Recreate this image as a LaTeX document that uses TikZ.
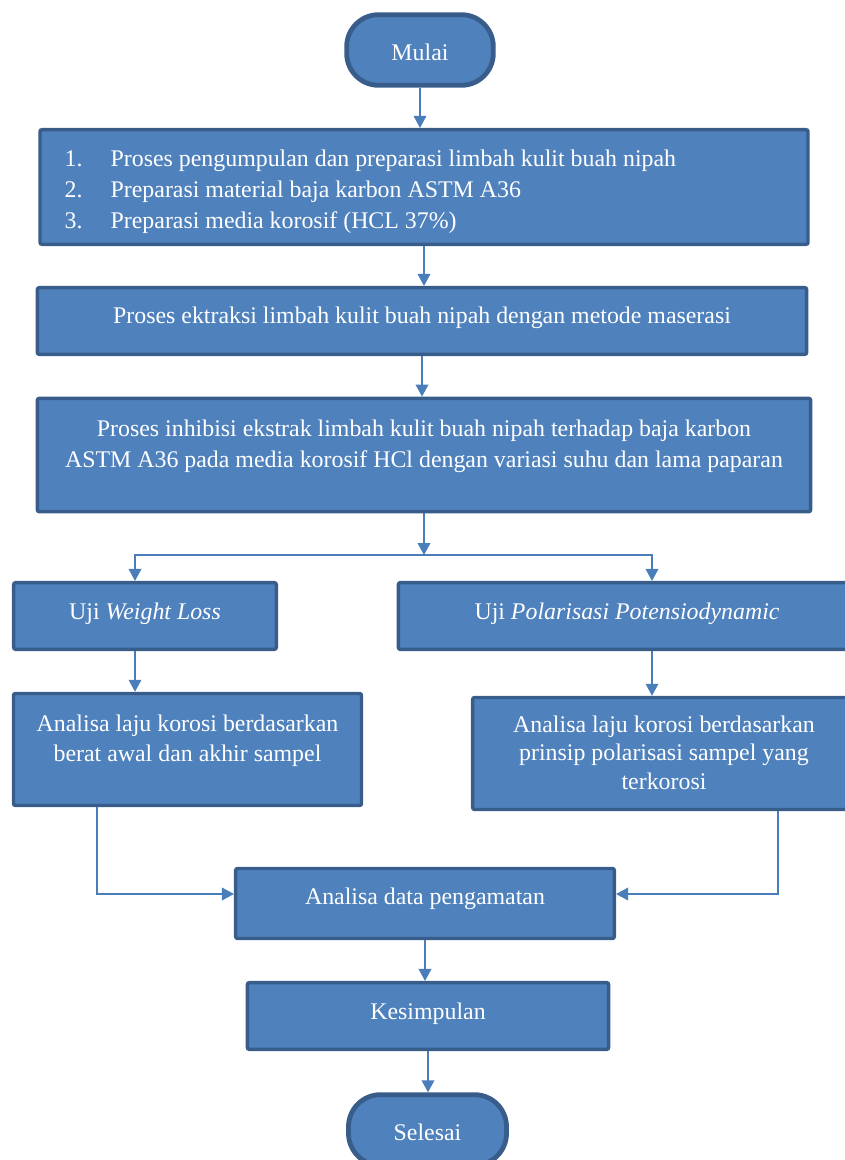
\documentclass[tikz,border=0pt]{standalone}
\usepackage{fontspec}
\setmainfont{Liberation Serif}
\usepackage{tikz}
\usetikzlibrary{arrows.meta}
\definecolor{boxfill}{HTML}{4F81BD}
\definecolor{boxline}{HTML}{385D8A}
\definecolor{arrowline}{HTML}{4A7EBB}
\newcommand{\boxlines}[1]{\begin{tabular}[t]{@{}c@{}}#1\end{tabular}}
\tikzstyle{startstop} = [rectangle, rounded corners=24pt, minimum width=110pt, minimum height=53pt, text depth=0pt, draw=boxline, line width=3.6pt, fill=boxfill, text=white]
\tikzstyle{process} = [rectangle, rounded corners=1.5pt, text depth=0pt, draw=boxline, line width=2.6pt, fill=boxfill, text=white]
\tikzstyle{arrow} = [line width=1.1pt, draw=arrowline, -{Triangle[length=9pt,width=9.5pt]}]
\tikzstyle{line} = [line width=1.1pt, draw=arrowline]

\begin{document}
\begin{tikzpicture}[x=0.75pt, y=-0.75pt, font=\fontsize{17.9}{23.6}\selectfont]

\clip (0,0) rectangle (845,1160);

\node (start) [startstop, text height=15pt] at (420,50) {Mulai};
\node (prep) [process, minimum width=576pt, minimum height=86pt, text height=0pt, text depth=31.5pt] at (424,187) {\begin{tabular}[t]{@{}p{34.5pt}@{}p{504.5pt}@{}}
1. & Proses pengumpulan dan preparasi limbah kulit buah nipah\\
2. & Preparasi material baja karbon ASTM A36\\
3. & Preparasi media korosif (HCL 37\%)
\end{tabular}};
\node (ekstr) [process, minimum width=577pt, minimum height=50pt, text height=3pt] at (422,321) {Proses ektraksi limbah kulit buah nipah dengan metode maserasi};
\node (inhib) [process, minimum width=580pt, minimum height=85pt, text height=0pt, text depth=28.5pt, font=\fontsize{17.9}{23.25}\selectfont] at (424,455) {\boxlines{Proses inhibisi ekstrak limbah kulit buah nipah terhadap baja karbon\\ ASTM A36 pada media korosif HCl dengan variasi suhu dan lama paparan}};
\node (wl) [process, minimum width=197pt, minimum height=50pt, text height=4.5pt] at (145,616) {Uji \textit{Weight Loss}};
\node (pp) [process, minimum width=343pt, minimum height=50pt, text height=4.5pt] at (627,616) {Uji \textit{Polarisasi Potensiodynamic}};
\node (al) [process, minimum width=261pt, minimum height=84pt, text height=0pt, text depth=27.75pt, font=\fontsize{17.9}{22.5}\selectfont] at (187.5,749.5) {\boxlines{Analisa laju korosi berdasarkan\\ berat awal dan akhir sampel}};
\node (ar) [process, minimum width=287pt, minimum height=84pt, text height=0pt, text depth=32.25pt, font=\fontsize{17.9}{21.4}\selectfont] at (664,753.5) {\boxlines{Analisa laju korosi berdasarkan\\ prinsip polarisasi sampel yang\\ terkorosi}};
\node (data) [process, minimum width=284pt, minimum height=52.5pt, text height=0.75pt] at (425,903.5) {Analisa data pengamatan};
\node (kes) [process, minimum width=271pt, minimum height=50pt, text height=4.5pt] at (428,1016) {Kesimpulan};
\node (stop) [startstop, minimum width=118.5pt, text height=15pt] at (427.5,1130) {Selesai};

\coordinate (split) at (425,555);
\coordinate (splitL) at (135,555);
\coordinate (splitR) at (652,555);
\coordinate (joinL) at (97,894);
\coordinate (joinR) at (778,894);

\draw [arrow] (start.south) -- (start.south |- prep.north);
\draw [arrow] (prep.south) -- (prep.south |- ekstr.north);
\draw [arrow] (ekstr.south) -- (ekstr.south |- inhib.north);
\draw [arrow] (inhib.south) -- (inhib.south |- split);
\draw [arrow] (split) -- (splitL) -- (splitL |- wl.north);
\draw [arrow] (split) -- (splitR) -- (splitR |- pp.north);
\draw [arrow] (wl.south -| splitL) -- (splitL |- al.north);
\draw [arrow] (pp.south -| splitR) -- (splitR |- ar.north);
\draw [arrow] (al.south -| joinL) -- (joinL) -- (joinL -| data.west);
\draw [arrow] (ar.south -| joinR) -- (joinR) -- (joinR -| data.east);
\draw [arrow] (data.south) -- (data.south |- kes.north);
\draw [arrow] (kes.south) -- (kes.south |- stop.north);

\end{tikzpicture}
\end{document}
